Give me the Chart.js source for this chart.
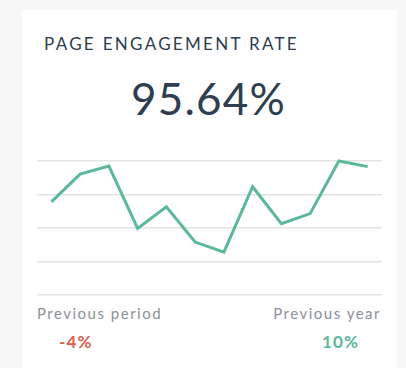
<!DOCTYPE html>
<html>
<head>
<meta charset="utf-8">
<script src="https://cdn.jsdelivr.net/npm/chart.js@4/dist/chart.umd.min.js"></script>
<style>
html,body{margin:0;padding:0;width:406px;height:368px;background:#f7f7f7;overflow:hidden;font-family:Lato,"Open Sans",sans-serif;}
#card{position:absolute;left:22px;top:10px;width:375px;height:370px;background:#fff;}
#title{position:absolute;left:44px;top:33px;font-size:17px;letter-spacing:2.3px;color:#2e3d4f;font-weight:400;white-space:nowrap;}
#big{position:absolute;left:131px;top:72px;font-size:44px;font-weight:400;color:#2e3d4f;letter-spacing:1.2px;white-space:nowrap;}
#wrap{position:absolute;left:37px;top:156px;width:345px;height:144px;}
.lbl{position:absolute;top:304px;font-size:15px;color:#8b919a;letter-spacing:1.5px;white-space:nowrap;}
.pct{position:absolute;top:331px;font-size:17px;font-weight:700;letter-spacing:1.2px;}
</style>
</head>
<body>
<div id="card"></div>
<div id="title">PAGE ENGAGEMENT RATE</div>
<div id="big">95.64%</div>
<div id="wrap"><canvas id="c"></canvas></div>
<div class="lbl" style="left:37px;">Previous period</div>
<div class="lbl" style="right:25px;">Previous year</div>
<div class="pct" style="left:59px;color:#d9604c;">-4%</div>
<div class="pct" style="left:322px;color:#5bb898;">10%</div>
<script>
const categories = ["1","2","3","4","5","6","7","8","9","10","11","12"];
const engagement = [93.9, 98.05, 99.25, 89.95, 93.16, 87.9, 86.4, 96.16, 90.65, 92.15, 100, 99.16];
const yMin = 80, yMax = 100, yStep = 5;

new Chart(document.getElementById('c'), {
  type: 'line',
  data: {
    labels: categories,
    datasets: [{
      data: engagement,
      borderColor: '#5bb898',
      borderWidth: 3,
      pointRadius: 0,
      tension: 0,
      fill: false,
      clip: false
    }]
  },
  options: {
    responsive: true,
    maintainAspectRatio: false,
    animation: false,
    layout: {padding: {top: 5, bottom: 5, left: 0, right: 0}},
    plugins: {legend: {display: false}, tooltip: {enabled: false}},
    scales: {
      x: {offset: true, display: false, grid: {display: false}},
      y: {
        min: yMin, max: yMax,
        ticks: {display: false, stepSize: yStep},
        border: {display: false},
        grid: {color: '#e3e3e3', lineWidth: 1.5, drawTicks: false}
      }
    }
  }
});
</script>
</body>
</html>
